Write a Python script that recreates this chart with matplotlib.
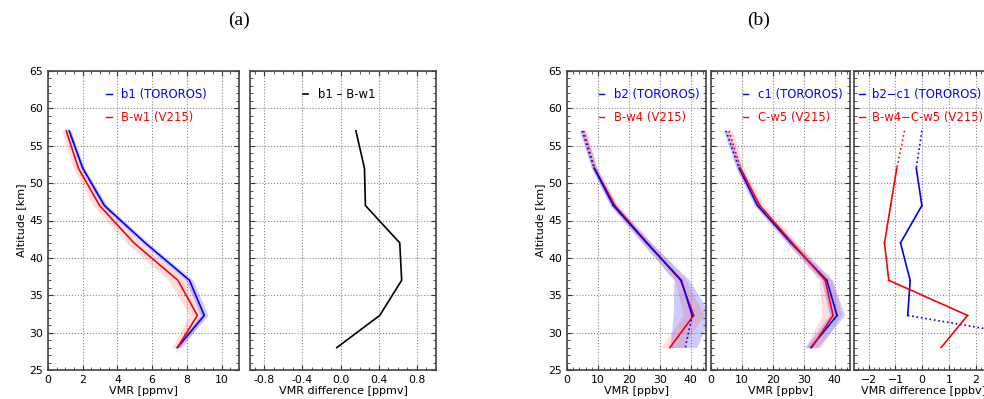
import numpy as np
import matplotlib
matplotlib.use("Agg")
import matplotlib.pyplot as plt
from matplotlib.ticker import AutoMinorLocator, MultipleLocator

# altitude levels [km]
alt = [57, 52, 47, 42, 37, 32.3, 28]

# (a) water vapour, ppmv
b1 = [1.22, 2.0, 3.25, 5.6, 8.15, 9.0, 7.45]
b1_err = [0.1, 0.1, 0.15, 0.2, 0.2, 0.22, 0.15]
bw1 = [1.05, 1.75, 2.97, 4.95, 7.48, 8.6, 7.45]
bw1_err = [0.25, 0.3, 0.35, 0.45, 0.55, 0.45, 0.3]
diff_b1 = [0.16, 0.25, 0.26, 0.62, 0.64, 0.41, -0.04]

# (b) ppbv
b2 = [4.9, 8.8, 15.0, 25.8, 37.0, 40.5, 38.3]
b2_lo = [4.0, 7.9, 13.9, 24.3, 34.6, 34.4, 33.3]
b2_hi = [5.8, 9.7, 16.1, 27.3, 39.7, 46.5, 42.0]
b2_ok = [0, 1, 1, 1, 1, 1, 0]
bw4 = [5.4, 8.9, 15.5, 26.0, 36.8, 41.0, 33.3]
bw4_lo = [4.4, 8.0, 14.3, 24.6, 35.0, 37.6, 30.4]
bw4_hi = [6.4, 9.8, 16.7, 27.4, 38.6, 44.4, 37.2]
bw4_ok = [0, 1, 1, 1, 1, 1, 1]

c1 = [4.8, 9.1, 15.05, 25.9, 37.5, 40.8, 32.3]
c1_lo = [4.0, 8.2, 14.0, 24.6, 35.8, 38.3, 30.5]
c1_hi = [5.6, 10.0, 16.1, 27.2, 39.2, 43.3, 34.5]
c1_ok = [0, 1, 1, 1, 1, 1, 1]
cw5 = [5.9, 9.5, 15.8, 26.3, 37.0, 39.5, 32.6]
cw5_lo = [4.8, 8.3, 14.4, 24.7, 35.0, 36.0, 30.3]
cw5_hi = [7.0, 10.7, 17.2, 27.9, 39.6, 42.2, 35.5]
cw5_ok = [0, 1, 1, 1, 1, 1, 1]

diff_b2c1 = [-0.01, -0.22, -0.01, -0.81, -0.45, -0.54, 6.5]
diff_b2c1_ok = [0, 1, 1, 1, 1, 1, 0]
diff_w4w5 = [-0.66, -0.95, -1.18, -1.41, -1.25, 1.7, 0.71]
diff_w4w5_ok = [0, 1, 1, 1, 1, 1, 1]

W, H = 984, 399
fig = plt.figure(figsize=(W / 100, H / 100), dpi=100)


def rect(x0, x1, y0=71, y1=370):
    return [x0 / W, 1 - y1 / H, (x1 - x0) / W, (y1 - y0) / H]


def style(ax, xlim, xmaj, ylab=None, xlab=""):
    ax.set_xlim(xlim)
    ax.set_ylim(25, 65)
    ax.xaxis.set_major_locator(MultipleLocator(xmaj))
    ax.yaxis.set_major_locator(MultipleLocator(5))
    ax.xaxis.set_minor_locator(AutoMinorLocator())
    ax.yaxis.set_minor_locator(AutoMinorLocator())
    ax.tick_params(which="both", direction="in", top=True, right=True,
                   labelsize=7.8, color="#333333")
    ax.tick_params(which="major", length=3.5)
    ax.tick_params(which="minor", length=2)
    for s in ax.spines.values():
        s.set_color("#444444")
        s.set_linewidth(1.2)
    ax.grid(True, which="major", linestyle=":", color="#888888", linewidth=0.8)
    ax.set_xlabel(xlab, fontsize=8, labelpad=1)
    if ylab:
        ax.set_ylabel(ylab, fontsize=8, labelpad=2)
    else:
        ax.tick_params(labelleft=False)


def seg_plot(ax, x, y, ok, color, label):
    # solid where both ends are good, dotted elsewhere
    for i in range(len(x) - 1):
        ls = "-" if (ok[i] and ok[i + 1]) else ":"
        ax.plot(x[i:i + 2], y[i:i + 2], color=color, ls=ls, lw=1.2)
    ax.plot([], [], color=color, lw=1.0, label=label)


def leg(ax, x0, y0=0.95, handles=None, pad=0.8):
    kw = dict(loc="upper left", bbox_to_anchor=(x0, y0), frameon=False,
              fontsize=8.4, handlelength=0.5, handletextpad=pad,
              labelspacing=0.8, borderaxespad=0, borderpad=0.2,
              labelcolor="linecolor")
    if handles:
        ax.legend(*handles, **kw)
    else:
        ax.legend(**kw)


# (a) left
ax1 = fig.add_axes(rect(48, 239))
ax1.fill_betweenx(alt, np.array(bw1) - bw1_err, np.array(bw1) + bw1_err,
                  color="red", alpha=0.13, lw=0)
ax1.fill_betweenx(alt, np.array(b1) - b1_err, np.array(b1) + b1_err,
                  color="blue", alpha=0.2, lw=0)
ax1.plot(b1, alt, color="blue", lw=1.2)
ax1.plot(bw1, alt, color="red", lw=1.2)
ax1.plot([], [], color="blue", lw=1.0, label="b1 (TOROROS)")
ax1.plot([], [], color="red", lw=1.0, label="B-w1 (V215)")
style(ax1, (0, 11), 2, "Altitude [km]", "VMR [ppmv]")
leg(ax1, 0.29)

# (a) right
ax2 = fig.add_axes(rect(250, 436))
ax2.plot(diff_b1, alt, color="black", lw=1.2, label="b1 \u2013 B-w1")
style(ax2, (-0.95, 1.0), 0.4, None, "VMR difference [ppmv]")
ax2.set_xticks([-0.8, -0.4, 0.0, 0.4, 0.8])
ax2.xaxis.set_major_formatter(matplotlib.ticker.FormatStrFormatter("%.1f"))
ax2.xaxis.set_minor_locator(MultipleLocator(0.1))
leg(ax2, 0.27)

# (b) b2 vs B-w4
ax3 = fig.add_axes(rect(567, 706))
ax3.fill_betweenx(alt, b2_lo, b2_hi, color="blue", alpha=0.2, lw=0)
ax3.fill_betweenx(alt, bw4_lo, bw4_hi, color="red", alpha=0.13, lw=0)
seg_plot(ax3, bw4, alt, bw4_ok, "red", None)
seg_plot(ax3, b2, alt, b2_ok, "blue", "b2 (TOROROS)")
ax3.plot([], [], color="red", lw=1.0, label="B-w4 (V215)")
style(ax3, (0, 45), 10, "Altitude [km]", "VMR [ppbv]")
leg(ax3, 0.21, handles=ax3.get_legend_handles_labels())

# (b) c1 vs C-w5
ax4 = fig.add_axes(rect(711, 850))
ax4.fill_betweenx(alt, cw5_lo, cw5_hi, color="red", alpha=0.13, lw=0)
ax4.fill_betweenx(alt, c1_lo, c1_hi, color="blue", alpha=0.2, lw=0)
seg_plot(ax4, c1, alt, c1_ok, "blue", "c1 (TOROROS)")
seg_plot(ax4, cw5, alt, cw5_ok, "red", "C-w5 (V215)")
style(ax4, (0, 45), 10, None, "VMR [ppbv]")
leg(ax4, 0.21)

# (b) differences
ax5 = fig.add_axes(rect(854, 993))
seg_plot(ax5, diff_b2c1, alt, diff_b2c1_ok, "blue", "b2\u2212c1 (TOROROS)")
seg_plot(ax5, diff_w4w5, alt, diff_w4w5_ok, "red", "B-w4\u2212C-w5 (V215)")
style(ax5, (-2.55, 2.65), 1, None, "VMR difference [ppbv]")
leg(ax5, 0.02, pad=0.6)

fig.text(239 / W, 1 - 20 / H, "(a)", ha="center", va="center",
         family="Liberation Serif", fontsize=14)
fig.text(759 / W, 1 - 20 / H, "(b)", ha="center", va="center",
         family="Liberation Serif", fontsize=14)

fig.savefig("out.png", dpi=100)
